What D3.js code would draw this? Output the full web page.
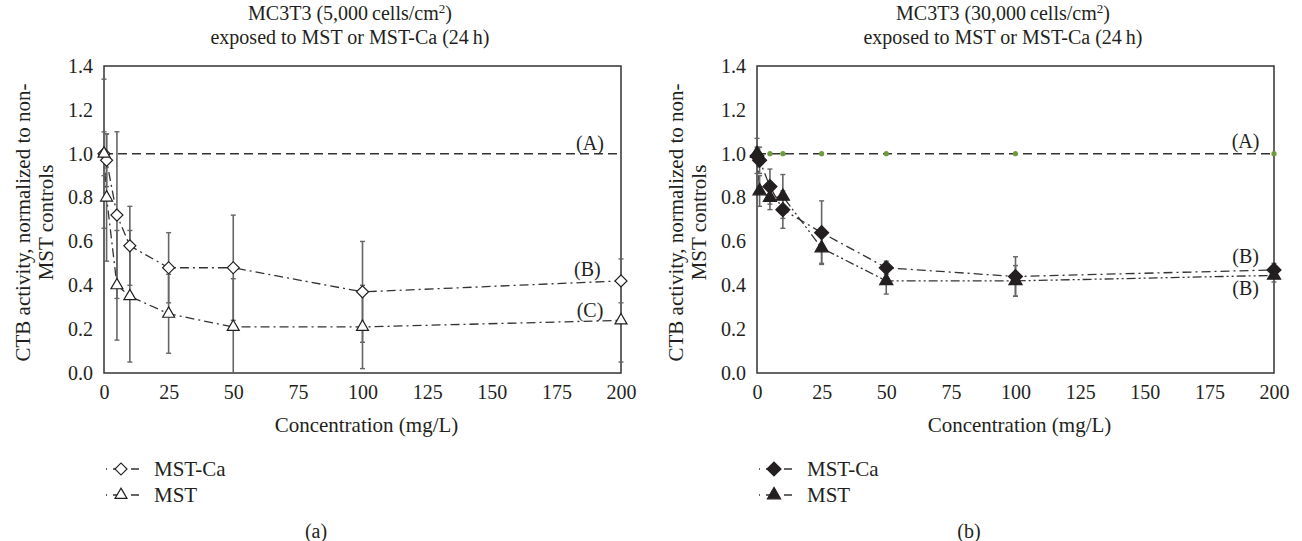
<!DOCTYPE html>
<html>
<head>
<meta charset="utf-8">
<script src="https://cdn.jsdelivr.net/npm/d3@7"></script>
<style>
    body { margin: 0; background: #fff; }
    svg text { font-family: "Liberation Serif", "Times New Roman", serif; fill: #231f20; }
</style>
</head>
<body>
<div id="chart"></div>
<script>
// concentrations (mg/L) shared by both panels
const conc = [0, 1, 5, 10, 25, 50, 100, 200];
const xTicks = [0, 25, 50, 75, 100, 125, 150, 175, 200];
const yTicks = [0, 0.2, 0.4, 0.6, 0.8, 1.0, 1.2, 1.4];

// panel (a): 5,000 cells/cm2
const a_mstca = [1.0, 0.97, 0.72, 0.58, 0.48, 0.48, 0.37, 0.42];
const a_mstca_err = [0.34, 0.12, 0.38, 0.18, 0.16, 0.24, 0.23, 0.10];
const a_mst = [1.0, 0.80, 0.40, 0.35, 0.27, 0.21, 0.21, 0.24];
const a_mst_err = [0.10, 0.29, 0.25, 0.30, 0.18, 0.22, 0.19, 0.19];
const a_labels = ["(A)", "(B)", "(C)"];
const a_labelConc = [188, 187, 188];
const a_labelVal = [1.05, 0.474, 0.287];

// panel (b): 30,000 cells/cm2
const b_mstca = [0.99, 0.97, 0.85, 0.745, 0.64, 0.48, 0.44, 0.47];
const b_mstca_err = [0.08, 0.06, 0.08, 0.085, 0.145, 0.03, 0.09, 0.03];
const b_mst = [1.0, 0.83, 0.80, 0.805, 0.57, 0.42, 0.42, 0.445];
const b_mst_err = [0.03, 0.07, 0.055, 0.10, 0.07, 0.06, 0.07, 0.03];
const b_control = [1, 1, 1, 1, 1, 1, 1, 1];
const b_labels = ["(A)", "(B)", "(B)"];
const b_labelConc = [189, 189, 189];
const b_labelVal = [1.06, 0.534, 0.386];

const legendNames = ["MST-Ca", "MST"];

var w = 1302, h = 541;
var svg = d3.select("#chart").append("svg")
    .attr("width", w).attr("height", h)
    .attr("viewBox", `0 0 ${w} ${h}`);

var ink = "#231f20";
var plotW = 517, plotH = 307;

const drawPanel = (left, cfg) => {
    var g = svg.append("g").attr("transform", `translate(${left}, 66)`);

    var x = d3.scaleLinear().domain([0, 200]).range([0, plotW]);
    var y = d3.scaleLinear().domain([0, 1.4]).range([plotH, 0]);

    // title (two lines, superscript)
    var title = svg.append("text")
        .attr("x", left + 246).attr("y", 20)
        .attr("text-anchor", "middle")
        .style("font-size", "20px");
    title.append("tspan").text(`MC3T3 (${cfg.density}\u2009cells/cm`);
    title.append("tspan").attr("dy", -7).style("font-size", "13px").text("2");
    title.append("tspan").attr("dy", 7).text(")");
    svg.append("text")
        .attr("x", left + 246).attr("y", 44)
        .attr("text-anchor", "middle")
        .style("font-size", "20px")
        .text("exposed to MST or MST-Ca (24\u2009h)");

    // axes
    var yAxis = g.append("g")
        .call(d3.axisLeft(y).tickValues(yTicks).tickFormat(d3.format(".1f")).tickSize(0).tickPadding(11));
    yAxis.select(".domain").remove();
    yAxis.selectAll("text").style("font-size", "20px").attr("fill", ink);

    var xAxis = g.append("g")
        .attr("transform", `translate(0, ${plotH})`)
        .call(d3.axisBottom(x).tickValues(xTicks).tickSize(0).tickPadding(12));
    xAxis.select(".domain").remove();
    xAxis.selectAll("text").style("font-size", "20px").attr("fill", ink);

    g.append("rect")
        .attr("width", plotW).attr("height", plotH)
        .attr("fill", "none").attr("stroke", "#333").attr("stroke-width", 1.5);

    // axis titles
    g.append("text")
        .attr("x", plotW / 2 + 4).attr("y", plotH + 59)
        .attr("text-anchor", "middle")
        .style("font-size", "21px")
        .text("Concentration (mg/L)");

    var ylab = g.append("text")
        .attr("transform", `translate(-74, ${plotH / 2 + 3}) rotate(-90)`)
        .attr("text-anchor", "middle")
        .style("font-size", "21px");
    ylab.append("tspan").attr("x", 0).attr("y", 0).text("CTB activity, normalized to non-");
    ylab.append("tspan").attr("x", 0).attr("y", 23).text("MST controls");

    // control line (A)
    g.append("line")
        .attr("x1", x(0)).attr("x2", x(200))
        .attr("y1", y(1)).attr("y2", y(1))
        .attr("stroke", "#333").attr("stroke-width", 1.4)
        .attr("stroke-dasharray", "9,5");

    if (cfg.control) {
        g.selectAll(".ctrl").data(conc).join("circle")
            .attr("cx", d => x(d)).attr("cy", (d, i) => y(cfg.control[i]))
            .attr("r", 2.6).attr("fill", "#6f9b3c");
    }

    var line = d3.line().x(d => x(d[0])).y(d => y(d[1]));

    cfg.series.forEach(s => {
        var pts = conc.map((c, i) => [c, s.values[i], s.err[i]]);

        g.append("path")
            .datum(pts)
            .attr("fill", "none")
            .attr("stroke", "#333")
            .attr("stroke-width", 1.3)
            .attr("stroke-dasharray", s.dash)
            .attr("d", line);

        // error bars, clipped at the frame
        var eb = g.append("g");
        pts.forEach(p => {
            var lo = Math.max(0, p[1] - p[2]), hi = Math.min(1.4, p[1] + p[2]);
            eb.append("line")
                .attr("x1", x(p[0])).attr("x2", x(p[0]))
                .attr("y1", y(lo)).attr("y2", y(hi))
                .attr("stroke", "#666").attr("stroke-width", 1.6);
            [lo, hi].forEach(v => {
                if (v > 0 && v < 1.4) {
                    eb.append("line")
                        .attr("x1", x(p[0]) - 2.5).attr("x2", x(p[0]) + 2.5)
                        .attr("y1", y(v)).attr("y2", y(v))
                        .attr("stroke", "#666").attr("stroke-width", 1.4);
                }
            });
        });
    });

    // markers on top
    cfg.series.forEach(s => {
        g.selectAll(null).data(conc).join("path")
            .attr("transform", (d, i) => `translate(${x(d)}, ${y(s.values[i])}) rotate(${s.rot})`)
            .attr("d", d3.symbol(s.shape, s.size)())
            .attr("fill", cfg.filled ? ink : "#fff")
            .attr("stroke", ink)
            .attr("stroke-width", 1.2);
    });

    // line labels
    cfg.labels.forEach((t, i) => {
        g.append("text")
            .attr("x", x(cfg.labelConc[i])).attr("y", y(cfg.labelVal[i]))
            .attr("dy", "0.35em")
            .attr("text-anchor", "middle")
            .style("font-size", "20px")
            .text(t);
    });

    // legend
    cfg.series.forEach((s, i) => {
        var ly = 469 + i * 26;
        svg.append("line")
            .attr("x1", left + 2).attr("x2", left + 36)
            .attr("y1", ly).attr("y2", ly)
            .attr("stroke", "#333").attr("stroke-width", 1.3)
            .attr("stroke-dasharray", "1,6,8,10,8");
        svg.append("path")
            .attr("transform", `translate(${left + 17}, ${ly}) rotate(${s.rot})`)
            .attr("d", d3.symbol(s.shape, s.size)())
            .attr("fill", cfg.filled ? ink : "#fff")
            .attr("stroke", ink).attr("stroke-width", 1.2);
        svg.append("text")
            .attr("x", left + 50).attr("y", ly)
            .attr("dy", "0.35em")
            .style("font-size", "21px")
            .text(legendNames[i]);
    });

    svg.append("text")
        .attr("x", left + 212).attr("y", 531)
        .attr("dy", "0.35em")
        .attr("text-anchor", "middle")
        .style("font-size", "20px")
        .text(cfg.tag);
};

drawPanel(104, {
    density: "5,000",
    tag: "(a)",
    filled: false,
    series: [
        { values: a_mstca, err: a_mstca_err, shape: d3.symbolSquare, size: 72, rot: 45, dash: "9,4,2,4" },
        { values: a_mst, err: a_mst_err, shape: d3.symbolTriangle, size: 62, rot: 0, dash: "9,4,2,4" }
    ],
    labels: a_labels, labelConc: a_labelConc, labelVal: a_labelVal
});

drawPanel(757, {
    density: "30,000",
    tag: "(b)",
    filled: true,
    control: b_control,
    series: [
        { values: b_mstca, err: b_mstca_err, shape: d3.symbolSquare, size: 98, rot: 45, dash: "9,4,2,4" },
        { values: b_mst, err: b_mst_err, shape: d3.symbolTriangle, size: 75, rot: 0, dash: "9,3,2,3,2,3" }
    ],
    labels: b_labels, labelConc: b_labelConc, labelVal: b_labelVal
});
</script>
</body>
</html>
